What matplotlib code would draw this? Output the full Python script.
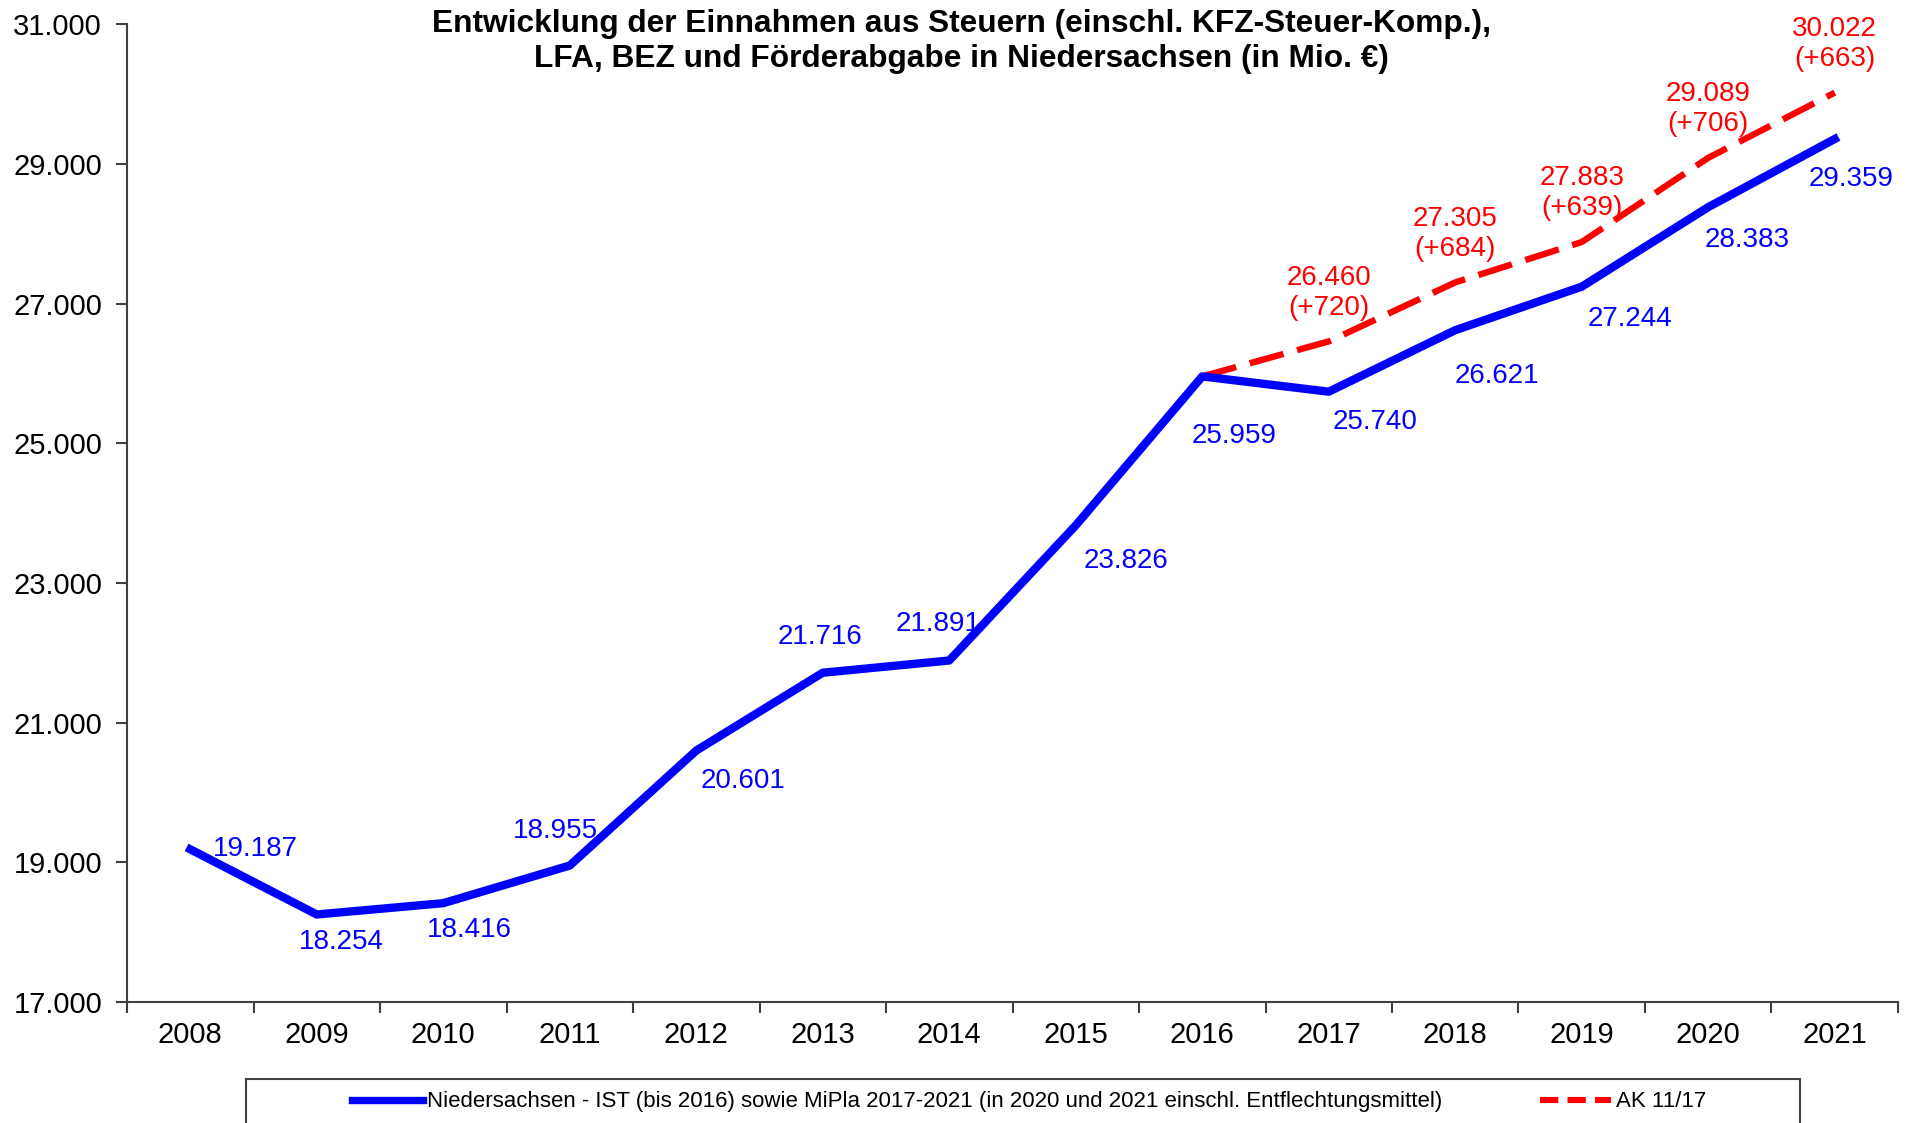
import matplotlib
matplotlib.use("Agg")
import matplotlib.pyplot as plt
from matplotlib.ticker import FuncFormatter, FixedLocator
from matplotlib.patches import Rectangle
from matplotlib.lines import Line2D

plt.rcParams['font.family'] = ['Liberation Sans', 'DejaVu Sans']

years = ['2008', '2009', '2010', '2011', '2012', '2013', '2014',
         '2015', '2016', '2017', '2018', '2019', '2020', '2021']
ist_mipla = [19187, 18254, 18416, 18955, 20601, 21716, 21891,
             23826, 25959, 25740, 26621, 27244, 28383, 29359]
ak_years = ['2016', '2017', '2018', '2019', '2020', '2021']
ak_values = [25959, 26460, 27305, 27883, 29089, 30022]
ak_diff = [None, 720, 684, 639, 706, 663]

title = ("Entwicklung der Einnahmen aus Steuern (einschl. KFZ-Steuer-Komp.),\n"
         "LFA, BEZ und Förderabgabe in Niedersachsen (in Mio. €)")
label_blue = ("Niedersachsen - IST (bis 2016) sowie MiPla 2017-2021 "
              "(in 2020 und 2021 einschl. Entflechtungsmittel)")
label_red = "AK 11/17"

# label offsets (points) for blue data labels
blue_offsets = [(47, 0), (18, -20), (19, -19), (-10, 25), (34, -22), (-2, 26),
                (-8, 26), (36, -26), (23, -43), (33, -22), (30, -33), (35, -23),
                (28, -24), (12, -29)]

def fmt(v):
    return f"{v:,.0f}".replace(",", ".")

fig = plt.figure(figsize=(19.16, 11.23), dpi=100)
ax = fig.add_axes([0.0663, 0.1077, 0.9243, 0.8706])

xb = list(range(len(years)))
xr = [years.index(y) for y in ak_years]

BLUE = '#0000FF'
RED = '#FF0000'

ax.plot(xr, ak_values, color=RED, lw=4.6, dashes=(5.5, 2.2), zorder=2,
        solid_capstyle='butt')
ax.plot(xb, ist_mipla, color=BLUE, lw=6, zorder=3, solid_joinstyle='round')

for x, v, (dx, dy) in zip(xb, ist_mipla, blue_offsets):
    ax.annotate(fmt(v), (x, v), xytext=(dx, dy), textcoords='offset points',
                ha='center', va='center', color=BLUE, fontsize=20)

for x, v, d in zip(xr, ak_values, ak_diff):
    if d is None:
        continue
    ax.annotate(f"{fmt(v)}\n(+{d})", (x, v), xytext=(0, 35),
                textcoords='offset points', ha='center', va='center',
                color=RED, fontsize=20, linespacing=1.2)

ax.set_xlim(-0.5, len(years) - 0.5)
ax.set_ylim(17000, 31000)
ax.set_yticks(range(17000, 31001, 2000))
ax.yaxis.set_major_formatter(FuncFormatter(lambda v, p: fmt(v)))
ax.set_xticks(xb)
ax.set_xticklabels(years)
ax.xaxis.set_minor_locator(FixedLocator([i - 0.5 for i in range(len(years) + 1)]))

for s in ['top', 'right']:
    ax.spines[s].set_visible(False)
for s in ['left', 'bottom']:
    ax.spines[s].set_color('#404040')
    ax.spines[s].set_linewidth(1.5)

ax.tick_params(axis='y', length=8, width=1.5, color='#404040', labelsize=21, pad=10)
ax.tick_params(axis='x', which='major', length=0, labelsize=21, pad=14)
ax.tick_params(axis='x', which='minor', length=8, width=1.5, color='#404040')

fig.text(0.502, 0.992, title, ha='center', va='top', fontsize=22.8,
         fontweight='bold', linespacing=1.22)

# legend box (extends below figure edge)
fig.patches.append(Rectangle((0.1284, -0.05), 0.811, 0.0892,
                             transform=fig.transFigure, fill=False,
                             edgecolor='#404040', lw=1.5))
handles = [Line2D([], [], color=BLUE, lw=5.3),
           Line2D([], [], color=RED, lw=4.4, dashes=(3, 1.5))]
fig.legend(handles, [label_blue, label_red], loc='center',
           bbox_to_anchor=(0.537, 0.0187), ncol=2, frameon=False,
           fontsize=16, handlelength=3.2, handletextpad=0.2,
           columnspacing=4.4)

fig.savefig('out.png', dpi=100)
